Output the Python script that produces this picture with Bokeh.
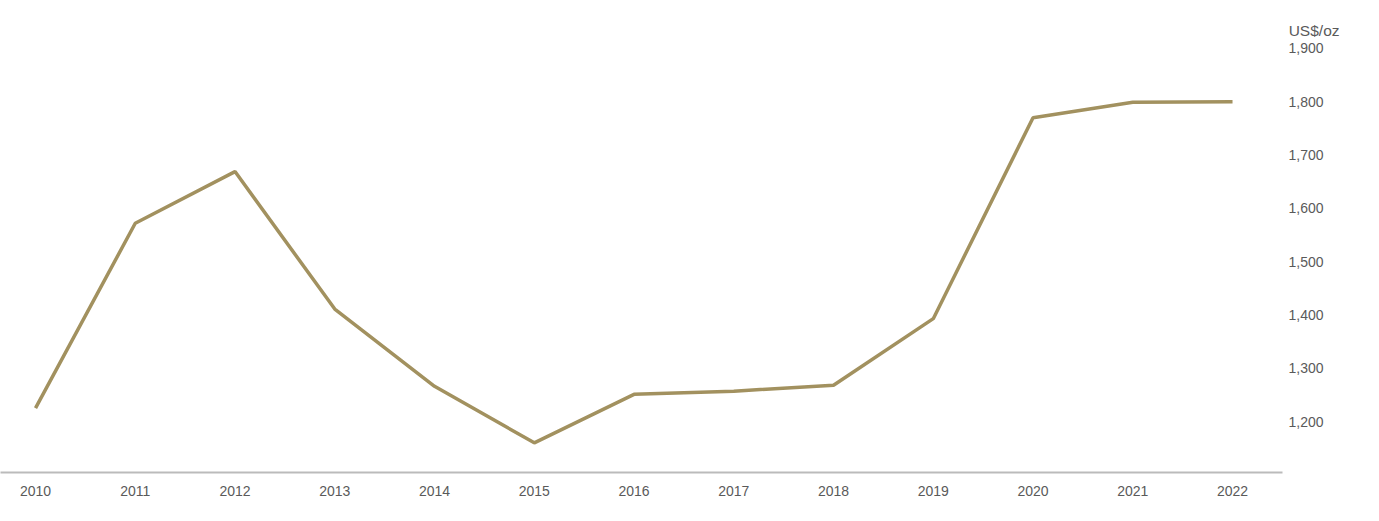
from bokeh.plotting import figure
from bokeh.models import ColumnDataSource, Range1d, LinearAxis, FixedTicker, Title, CustomJSTickFormatter
from bokeh.embed import file_html
from bokeh.resources import INLINE

years = [2010, 2011, 2012, 2013, 2014, 2015, 2016, 2017, 2018, 2019, 2020, 2021, 2022]
price = [1225, 1572, 1669, 1411, 1266, 1160, 1251, 1257, 1268, 1393, 1770, 1799, 1800]
y_ticks = [1200, 1300, 1400, 1500, 1600, 1700, 1800, 1900]
unit_label = "US$/oz"

FONT = "Liberation Sans"
TXT = "#5a5a5a"

p = figure(width=1363, height=505, output_backend="svg", toolbar_location=None,
           x_range=Range1d(2009.649, 2022.501), y_range=Range1d(1104.3, 1915.0),
           min_border_left=0, min_border_right=81, min_border_top=40, min_border_bottom=33,
           x_axis_location=None, y_axis_location=None)
p.outline_line_color = None
p.grid.visible = False
p.background_fill_color = "white"

src = ColumnDataSource(dict(x=years, y=price))
p.line("x", "y", source=src, line_color="#A2915F", line_width=3.5)

xa = LinearAxis(ticker=FixedTicker(ticks=years))
xa.axis_line_color = "#BBBBBB"
xa.axis_line_width = 2
xa.major_tick_line_color = None
xa.minor_tick_line_color = None
xa.major_label_text_font = FONT
xa.major_label_text_font_size = "14px"
xa.major_label_text_color = TXT
xa.major_label_standoff = 7
p.add_layout(xa, "below")

ya = LinearAxis(ticker=FixedTicker(ticks=y_ticks),
                formatter=CustomJSTickFormatter(code="return tick.toLocaleString('en-US');"))
ya.axis_line_color = None
ya.major_tick_line_color = None
ya.minor_tick_line_color = None
ya.major_tick_out = 0
ya.major_tick_in = 0
ya.major_label_text_font = FONT
ya.major_label_text_font_size = "14px"
ya.major_label_text_color = TXT
ya.major_label_standoff = 6
p.add_layout(ya, "right")

t = Title(text=unit_label, align="right", offset=-57, standoff=3,
          text_font=FONT, text_font_size="15.5px", text_color=TXT, text_font_style="normal")
p.add_layout(t, "above")

open("out.html", "w").write(file_html(p, INLINE))
